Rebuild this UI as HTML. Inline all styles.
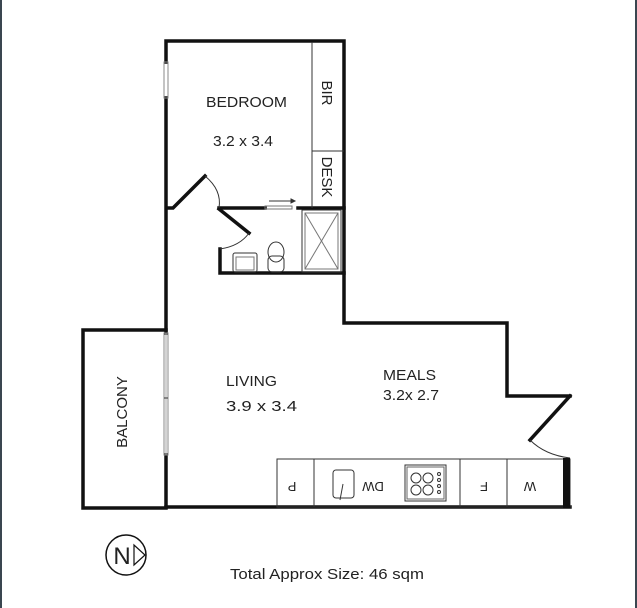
<!DOCTYPE html>
<html><head><meta charset="utf-8"><style>
html,body{margin:0;padding:0;background:#fff;}
svg{display:block;}
text{font-family:"Liberation Sans",sans-serif;fill:#222;}
</style></head><body>
<svg width="637" height="608" viewBox="0 0 637 608" xmlns="http://www.w3.org/2000/svg">
<rect x="0" y="0" width="637" height="608" fill="#fff"/>
<rect x="0" y="0" width="2" height="608" fill="#3a4650"/>
<rect x="635" y="0" width="2" height="608" fill="#3a4650"/>
<g stroke="#111" stroke-width="3.5" fill="none" stroke-linecap="square">
<polyline points="166,62 166,41 344,41 344,323 507,323 507,396 570,396"/>
<line x1="166" y1="98" x2="166" y2="333"/>
<line x1="166" y1="455" x2="166" y2="507"/>
<line x1="166" y1="507" x2="570" y2="507"/>
<polyline points="166,330 83,330 83,508 166,508"/>
<polyline points="168,208 173,208 205,176"/>
<line x1="219" y1="208" x2="265" y2="208"/>
<line x1="298" y1="208" x2="344" y2="208"/>
<line x1="219" y1="209" x2="249" y2="233"/>
<polyline points="220,249 220,273 344,273"/>
<line x1="570" y1="396" x2="530" y2="440"/>
</g>
<g fill="none" stroke="#333" stroke-width="1">
<path d="M205,176 Q222,190 219,208"/>
<path d="M249,233 Q240,246 220,249"/>
<path d="M530,440 Q545,455 570,458"/>
<rect x="164" y="62" width="4" height="36" stroke="#888"/>
<rect x="164" y="333" width="4" height="122" stroke="#888"/>
<line x1="166" y1="333" x2="166" y2="455" stroke="#aaa"/>
<line x1="164" y1="398" x2="168" y2="398"/>
<rect x="265" y="206" width="27" height="3" stroke="#777"/>
<line x1="269" y1="201" x2="291" y2="201" stroke="#333"/>
<polygon points="291,199 295,201 291,203" fill="#333"/>
<line x1="312" y1="42" x2="312" y2="208"/>
<line x1="312" y1="151" x2="344" y2="151"/>
<rect x="302" y="210" width="39" height="62"/>
<rect x="305" y="213" width="33" height="56" stroke="#777"/>
<line x1="305" y1="213" x2="338" y2="269" stroke="#777"/>
<line x1="338" y1="213" x2="305" y2="269" stroke="#777"/>
<rect x="233" y="253" width="24" height="19" rx="2"/>
<rect x="236" y="257" width="18" height="13" stroke="#777"/>
<rect x="268" y="256" width="16" height="16" rx="4"/>
<ellipse cx="276" cy="252" rx="8" ry="10"/>
<rect x="277" y="459" width="293" height="48"/>
<line x1="314" y1="459" x2="314" y2="507"/>
<line x1="460" y1="459" x2="460" y2="507"/>
<line x1="507" y1="459" x2="507" y2="507"/>
<rect x="333" y="470" width="21" height="28" rx="3"/>
<line x1="343" y1="484" x2="340" y2="500"/>
<rect x="405" y="465" width="41" height="36"/>
<rect x="407" y="467" width="37" height="32" stroke="#666"/>
<circle cx="416" cy="478" r="5"/><circle cx="428" cy="478" r="5"/>
<circle cx="416" cy="490" r="5"/><circle cx="428" cy="490" r="5"/>
<circle cx="439" cy="474" r="1.5"/><circle cx="439" cy="480" r="1.5"/><circle cx="439" cy="486" r="1.5"/><circle cx="439" cy="492" r="1.5"/>
<circle cx="126" cy="555" r="20" stroke="#111" stroke-width="1.5"/>
<polygon points="134,545 134,565 145,555" stroke="#111" stroke-width="1.2"/>
</g>
<rect x="563" y="458" width="7" height="50" fill="#111"/>
<text x="206" y="107" font-size="15" textLength="81" lengthAdjust="spacingAndGlyphs">BEDROOM</text>
<text x="213" y="146" font-size="15" textLength="60" lengthAdjust="spacingAndGlyphs">3.2 x 3.4</text>
<text transform="translate(322,93) rotate(90)" font-size="15" text-anchor="middle">BIR</text>
<text transform="translate(322,177) rotate(90)" font-size="15" text-anchor="middle">DESK</text>
<text x="226" y="386" font-size="15" textLength="51" lengthAdjust="spacingAndGlyphs">LIVING</text>
<text x="226" y="411" font-size="15" textLength="71" lengthAdjust="spacingAndGlyphs">3.9 x 3.4</text>
<text x="383" y="380" font-size="15" textLength="53" lengthAdjust="spacingAndGlyphs">MEALS</text>
<text x="383" y="400" font-size="15" textLength="56" lengthAdjust="spacingAndGlyphs">3.2x 2.7</text>
<text transform="translate(127,412) rotate(-90)" font-size="15" text-anchor="middle">BALCONY</text>
<text transform="translate(292,482) rotate(180)" font-size="13" text-anchor="middle">P</text>
<text transform="translate(373,482) rotate(180)" font-size="13" text-anchor="middle">DW</text>
<text transform="translate(484,482) rotate(180)" font-size="13" text-anchor="middle">F</text>
<text transform="translate(530,482) rotate(180)" font-size="13" text-anchor="middle">W</text>
<text x="122" y="564" font-size="24" text-anchor="middle" fill="#111">N</text>
<text x="230" y="579" font-size="15" textLength="194" lengthAdjust="spacingAndGlyphs">Total Approx Size: 46 sqm</text>
</svg>
</body></html>
